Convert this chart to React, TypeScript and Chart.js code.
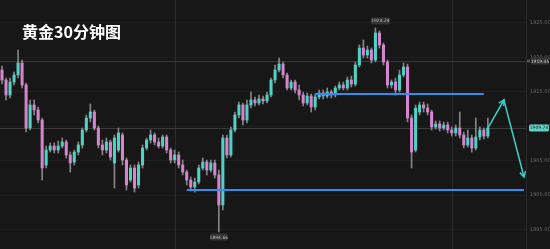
import React, { useEffect, useRef } from "react";
import { Chart, registerables } from "chart.js";

Chart.register(...registerables);

const chartTitle = "黄金30分钟图";

const opens = [
  1918.15, 1916.70, 1914.53, 1916.41, 1917.43, 1919.17, 1915.98, 1909.74, 1913.08, 1912.35,
  1910.90, 1904.38, 1906.55, 1907.13, 1906.55, 1907.13, 1907.71, 1905.83, 1904.81, 1906.26,
  1907.28, 1909.45, 1911.19, 1912.06, 1909.74, 1907.28, 1906.55, 1907.71, 1904.67, 1906.55,
  1908.73, 1905.10, 1902.20, 1903.94, 1901.48, 1904.38, 1906.84, 1908.00, 1908.73, 1907.71,
  1907.13, 1908.44, 1906.55, 1905.10, 1905.83, 1904.38, 1903.36, 1902.20, 1901.19, 1901.91,
  1903.94, 1904.81, 1903.65, 1904.67, 1902.93, 1898.58, 1908.29, 1905.83, 1909.45, 1911.63,
  1913.08, 1910.90, 1913.08, 1913.80, 1913.37, 1913.95, 1913.66, 1914.53, 1916.70, 1918.15,
  1919.02, 1917.43, 1915.54, 1916.41, 1915.25, 1914.53, 1913.37, 1914.38, 1912.79, 1914.24,
  1914.82, 1914.38, 1914.96, 1914.53, 1915.54, 1915.98, 1915.54, 1916.70, 1916.12, 1918.88,
  1921.34, 1920.33, 1921.05, 1919.60, 1923.52, 1921.78, 1919.31, 1915.98, 1916.41, 1915.25,
  1917.43, 1918.59, 1911.19, 1906.55, 1912.06, 1913.08, 1912.64, 1912.06, 1909.89, 1910.32,
  1909.74, 1910.18, 1909.45, 1909.02, 1909.74, 1908.73, 1907.28, 1908.29, 1906.84, 1908.44,
  1909.45, 1908.58,
];

const highs = [
  1918.73, 1916.99, 1916.99, 1917.86, 1921.05, 1919.60, 1916.27, 1913.80, 1913.80, 1912.79,
  1911.19, 1907.13, 1907.57, 1907.57, 1907.86, 1908.29, 1908.00, 1906.26, 1906.55, 1907.71,
  1909.74, 1911.63, 1913.22, 1912.35, 1910.03, 1908.00, 1908.29, 1908.00, 1908.73, 1909.74,
  1909.02, 1905.39, 1904.38, 1904.38, 1904.81, 1907.28, 1908.29, 1909.45, 1909.02, 1908.29,
  1908.73, 1908.73, 1906.84, 1906.55, 1906.26, 1905.10, 1903.65, 1902.64, 1902.49, 1904.38,
  1905.39, 1905.10, 1905.10, 1905.10, 1903.65, 1908.73, 1908.73, 1909.89, 1912.06, 1913.51,
  1913.37, 1913.80, 1914.96, 1914.24, 1914.53, 1914.38, 1914.96, 1916.99, 1918.88, 1919.89,
  1919.31, 1917.72, 1916.70, 1916.70, 1915.98, 1914.96, 1914.82, 1914.67, 1914.67, 1915.25,
  1915.25, 1915.54, 1915.25, 1915.83, 1916.41, 1916.41, 1917.14, 1917.28, 1919.31, 1921.78,
  1922.50, 1921.63, 1921.34, 1924.24, 1923.81, 1922.07, 1919.60, 1916.70, 1916.99, 1918.15,
  1919.17, 1919.02, 1911.63, 1913.08, 1913.51, 1913.51, 1913.22, 1912.35, 1910.76, 1910.76,
  1910.61, 1910.61, 1909.89, 1910.18, 1912.06, 1909.16, 1909.45, 1908.73, 1911.19, 1909.89,
  1909.74, 1911.19,
];

const lows = [
  1916.12, 1913.80, 1914.09, 1915.98, 1916.99, 1915.54, 1909.16, 1909.45, 1911.63, 1910.47,
  1902.20, 1903.94, 1906.26, 1906.12, 1906.12, 1906.84, 1905.39, 1903.36, 1904.38, 1905.83,
  1906.84, 1909.16, 1910.61, 1909.45, 1906.84, 1905.83, 1906.12, 1905.10, 1901.04, 1906.26,
  1904.38, 1900.75, 1901.91, 1900.46, 1901.04, 1903.94, 1906.55, 1907.57, 1907.28, 1906.84,
  1906.84, 1906.12, 1904.67, 1904.67, 1903.94, 1902.93, 1901.48, 1900.61, 1900.46, 1901.62,
  1903.65, 1902.93, 1903.36, 1902.49, 1894.66, 1897.85, 1905.39, 1905.54, 1909.16, 1911.19,
  1910.18, 1910.47, 1912.64, 1912.93, 1913.08, 1913.22, 1913.37, 1914.24, 1916.27, 1917.86,
  1916.99, 1915.25, 1915.25, 1914.82, 1913.80, 1912.93, 1913.08, 1912.06, 1912.35, 1913.95,
  1913.95, 1914.09, 1914.09, 1914.24, 1915.25, 1915.25, 1915.25, 1915.69, 1915.83, 1918.59,
  1919.89, 1919.89, 1919.17, 1919.31, 1921.34, 1918.88, 1915.54, 1915.54, 1914.53, 1914.96,
  1917.14, 1910.61, 1903.94, 1906.26, 1911.63, 1912.06, 1911.63, 1909.45, 1909.60, 1909.31,
  1909.45, 1909.02, 1908.58, 1908.58, 1908.29, 1906.84, 1906.99, 1906.26, 1906.55, 1908.00,
  1908.15, 1908.29,
];

const closes = [
  1916.70, 1914.53, 1916.41, 1917.43, 1919.17, 1915.98, 1909.74, 1913.08, 1912.35, 1910.90,
  1903.94, 1906.55, 1907.13, 1906.55, 1907.13, 1907.71, 1905.83, 1904.67, 1906.26, 1907.28,
  1909.45, 1911.19, 1912.06, 1909.74, 1907.28, 1906.55, 1907.71, 1905.54, 1908.29, 1909.02,
  1905.10, 1901.48, 1903.94, 1901.04, 1904.38, 1906.84, 1908.00, 1908.73, 1907.71, 1907.13,
  1908.44, 1906.55, 1905.10, 1905.83, 1904.38, 1903.36, 1902.20, 1901.19, 1901.91, 1903.94,
  1904.81, 1903.65, 1904.67, 1902.93, 1898.58, 1908.29, 1905.83, 1909.45, 1911.63, 1913.08,
  1910.90, 1913.08, 1913.80, 1913.37, 1913.95, 1913.66, 1914.53, 1916.70, 1918.15, 1919.02,
  1917.43, 1915.54, 1916.41, 1915.25, 1914.53, 1913.37, 1914.38, 1912.79, 1914.24, 1914.82,
  1914.38, 1914.96, 1914.53, 1915.54, 1915.98, 1915.54, 1916.70, 1916.12, 1918.88, 1921.34,
  1920.33, 1921.05, 1919.60, 1923.52, 1921.78, 1919.31, 1915.98, 1916.41, 1915.25, 1917.43,
  1918.59, 1911.19, 1906.26, 1912.64, 1913.08, 1912.64, 1912.06, 1909.89, 1910.32, 1909.74,
  1910.18, 1909.45, 1909.02, 1909.74, 1908.73, 1907.28, 1908.29, 1906.84, 1908.44, 1909.45,
  1908.58, 1909.74,
];

// total 30-minute slots on the time axis (candles + empty future space)
const slotCount = 131;
const startHour = 8;

const yTicks = [1925, 1920, 1915, 1910, 1905, 1900, 1895];
const yMin = 1892.2;
const yMax = 1928.3;

const resistanceLevel = 1914.67;
const resistanceSlots = [78, 120];
const supportLevel = 1900.75;
const supportSlots = [46, 130];
const markLevel = 1919.45;

const arrowSlots = [121, 125, 130];
const arrowPrices = [1909.74, 1913.8, 1902.64];

const gridSlots = [43, 112];

const UP = "#4fd2c4";
const DOWN = "#d584cd";
const WICK = "#858585";
const BLUE = "#2f8ef0";
const CYAN = "#3fcfc4";
const BG = "#171717";

function buildLabels(): string[] {
  const out: string[] = [];
  for (let i = 0; i < slotCount; i++) {
    const mins = startHour * 60 + i * 30;
    const h = Math.floor(mins / 60) % 24;
    const m = mins % 60;
    out.push(`${String(h).padStart(2, "0")}:${String(m).padStart(2, "0")}`);
  }
  return out;
}

function sparse(slots: number[], values: number[]): (number | null)[] {
  const arr: (number | null)[] = new Array(slotCount).fill(null);
  slots.forEach((s, k) => (arr[s] = values[k]));
  return arr;
}

function drawHead(ctx: CanvasRenderingContext2D, fx: number, fy: number, tx: number, ty: number) {
  const a = Math.atan2(ty - fy, tx - fx);
  const len = 6;
  ctx.beginPath();
  ctx.moveTo(tx - len * Math.cos(a - 0.5), ty - len * Math.sin(a - 0.5));
  ctx.lineTo(tx, ty);
  ctx.lineTo(tx - len * Math.cos(a + 0.5), ty - len * Math.sin(a + 0.5));
  ctx.stroke();
}

function labelBox(ctx: CanvasRenderingContext2D, cx: number, cy: number, text: string, bg: string, fg: string, w: number) {
  ctx.fillStyle = bg;
  ctx.beginPath();
  (ctx as any).roundRect ? (ctx as any).roundRect(cx - w / 2, cy - 3.5, w, 7, 1.5) : ctx.rect(cx - w / 2, cy - 3.5, w, 7);
  ctx.fill();
  ctx.fillStyle = fg;
  ctx.font = "4.5px 'DejaVu Sans'";
  ctx.textAlign = "center";
  ctx.textBaseline = "middle";
  ctx.fillText(text, cx, cy + 0.3);
}

const decor = {
  id: "decor",
  beforeDraw(chart: any) {
    const { ctx, width, height } = chart;
    ctx.save();
    ctx.fillStyle = BG;
    ctx.fillRect(0, 0, width, height);
    ctx.restore();
  },
  beforeDatasetsDraw(chart: any) {
    const { ctx, chartArea, scales } = chart;
    const x = scales.x;
    const y = scales.y;
    ctx.save();
    ctx.lineWidth = 1;
    ctx.strokeStyle = "#2b2b2b";
    gridSlots.forEach((s) => {
      const px = Math.round(x.getPixelForValue(s)) + 0.5;
      ctx.beginPath();
      ctx.moveTo(px, 0);
      ctx.lineTo(px, chart.height);
      ctx.stroke();
    });
    ctx.strokeStyle = "#383838";
    const my = Math.round(y.getPixelForValue(markLevel)) + 0.5;
    ctx.beginPath();
    ctx.moveTo(chartArea.left, my);
    ctx.lineTo(chartArea.right, my);
    ctx.stroke();
    const last = closes[closes.length - 1];
    const ly = Math.round(y.getPixelForValue(last)) + 0.5;
    ctx.strokeStyle = "#3a3a3a";
    ctx.beginPath();
    ctx.moveTo(chartArea.left, ly);
    ctx.lineTo(chartArea.right, ly);
    ctx.stroke();
    ctx.restore();
  },
  afterDraw(chart: any) {
    const { ctx, chartArea, scales } = chart;
    const x = scales.x;
    const y = scales.y;
    ctx.save();
    ctx.strokeStyle = CYAN;
    ctx.lineWidth = 1.5;
    const pts = arrowSlots.map((s, k) => [x.getPixelForValue(s), y.getPixelForValue(arrowPrices[k])]);
    drawHead(ctx, pts[0][0], pts[0][1], pts[1][0], pts[1][1]);
    drawHead(ctx, pts[1][0], pts[1][1], pts[2][0], pts[2][1]);

    const axisMid = chartArea.right + 13;
    const my = y.getPixelForValue(markLevel);
    labelBox(ctx, axisMid + 1, my, markLevel.toFixed(2), "#353535", "#c8c8c8", 18);
    ctx.fillStyle = "#555";
    ctx.fillRect(chartArea.right + 1, my - 1.5, 3, 3);
    const last = closes[closes.length - 1];
    labelBox(ctx, axisMid, y.getPixelForValue(last), last.toFixed(2), "#5fd0c6", "#0d2b28", 20);

    let hi = 0;
    let lo = 0;
    highs.forEach((h, i) => { if (h > highs[hi]) hi = i; });
    lows.forEach((l, i) => { if (l < lows[lo]) lo = i; });
    labelBox(ctx, x.getPixelForValue(hi) + 5, y.getPixelForValue(highs[hi]) - 7, highs[hi].toFixed(2), "#333333", "#bdbdbd", 19);
    labelBox(ctx, x.getPixelForValue(lo), y.getPixelForValue(lows[lo]) + 5, lows[lo].toFixed(2), "#333333", "#bdbdbd", 17);
    ctx.restore();
  },
};

export default function App() {
  const canvasRef = useRef<HTMLCanvasElement | null>(null);

  useEffect(() => {
    document.body.style.margin = "0";
    document.body.style.background = BG;
    const canvas = canvasRef.current;
    if (!canvas) return;
    const labels = buildLabels();
    const bodyColors = opens.map((o, i) => (closes[i] >= o ? UP : DOWN));

    const chart = new Chart(canvas, {
      type: "bar",
      data: {
        labels,
        datasets: [
          {
            type: "bar",
            label: "wick",
            data: lows.map((l, i) => [l, highs[i]]) as any,
            backgroundColor: WICK,
            barThickness: 1,
            grouped: false,
            order: 4,
          } as any,
          {
            type: "bar",
            label: "body",
            data: opens.map((o, i) => [o, closes[i]]) as any,
            backgroundColor: bodyColors,
            barThickness: 2.4,
            grouped: false,
            order: 3,
          } as any,
          {
            type: "line",
            label: "resistance",
            data: sparse(resistanceSlots, [resistanceLevel, resistanceLevel]),
            borderColor: BLUE,
            borderWidth: 2,
            pointRadius: 0,
            spanGaps: true,
            order: 2,
          } as any,
          {
            type: "line",
            label: "support",
            data: sparse(supportSlots, [supportLevel, supportLevel]),
            borderColor: BLUE,
            borderWidth: 2,
            pointRadius: 0,
            spanGaps: true,
            order: 2,
          } as any,
          {
            type: "line",
            label: "forecast",
            data: sparse(arrowSlots, arrowPrices),
            borderColor: CYAN,
            borderWidth: 1.5,
            pointRadius: 0,
            spanGaps: true,
            order: 1,
          } as any,
        ],
      },
      options: {
        responsive: false,
        maintainAspectRatio: false,
        animation: false,
        devicePixelRatio: 1,
        layout: { padding: 0 },
        plugins: { legend: { display: false }, tooltip: { enabled: false }, title: { display: false } },
        scales: {
          x: {
            type: "category",
            display: false,
            offset: true,
          },
          y: {
            position: "right",
            min: yMin,
            max: yMax,
            afterBuildTicks: (s: any) => {
              s.ticks = yTicks.map((v) => ({ value: v }));
            },
            afterFit: (s: any) => {
              s.width = 24;
              s.paddingTop = 0;
              s.paddingBottom = 0;
            },
            ticks: {
              color: "#6a6a6a",
              font: { size: 5, family: "'DejaVu Sans'" },
              padding: 4,
              callback: (v: any) => Number(v).toFixed(2),
            },
            grid: { color: "#1f1f1f", drawTicks: false },
            border: { display: true, color: "#2a2a2a" },
          },
        },
      },
      plugins: [decor],
    });
    return () => chart.destroy();
  }, []);

  return (
    <div style={{ position: "relative", width: 550, height: 249, background: BG, overflow: "hidden" }}>
      <canvas ref={canvasRef} width={550} height={249} style={{ display: "block" }} />
      <div
        style={{
          position: "absolute",
          left: 22,
          top: 22,
          color: "#ffffff",
          fontFamily: "'Noto Sans CJK SC', sans-serif",
          fontWeight: 700,
          fontSize: 16,
          lineHeight: "19px",
          letterSpacing: 0,
          whiteSpace: "nowrap",
        }}
      >
        {chartTitle}
      </div>
    </div>
  );
}
